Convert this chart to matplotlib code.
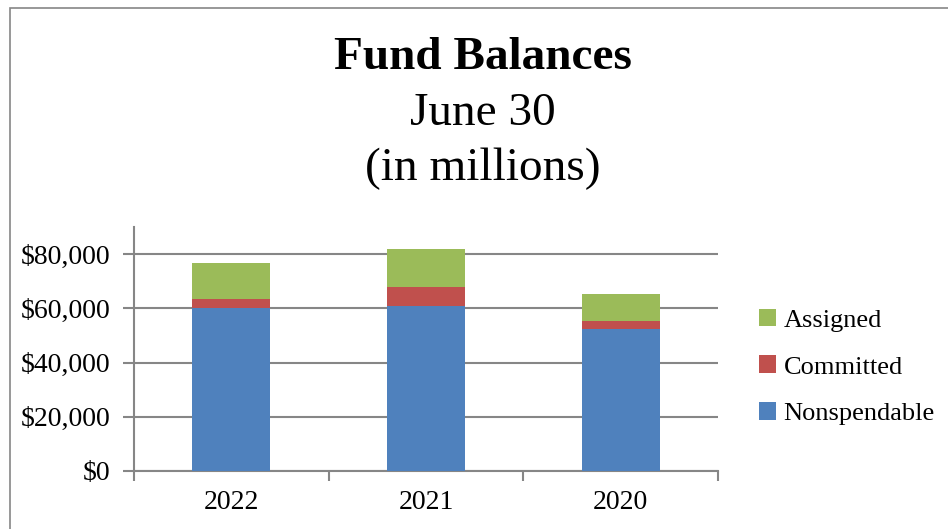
import matplotlib
matplotlib.use("Agg")
import matplotlib.pyplot as plt
from matplotlib.patches import Rectangle, Patch
from matplotlib.ticker import FuncFormatter, FixedLocator
import numpy as np

years = ["2022", "2021", "2020"]
nonspendable = [60200, 60700, 52300]
committed = [3200, 7000, 3200]
assigned = [13300, 14100, 9900]

series_names = ["Nonspendable", "Committed", "Assigned"]
series_colors = ["#4F81BD", "#C0504D", "#9BBB59"]
grid_color = "#868686"

plt.rcParams["font.family"] = ["Liberation Serif", "DejaVu Serif"]

W, H = 948, 529
fig = plt.figure(figsize=(W / 100, H / 100), dpi=100)

# outer chart frame (runs past the right and bottom edges)
fig.patches.append(Rectangle((10 / W, -0.05), 1.2, (H - 8) / H + 0.05,
                             transform=fig.transFigure, fill=False,
                             edgecolor=grid_color, linewidth=1.2))

ax = fig.add_axes([134 / W, (H - 471) / H, (718 - 134) / W, (471 - 227) / H])

x = np.arange(len(years))
width = 0.4
bottoms = np.zeros(len(years))
handles = []
for vals, name, col in zip([nonspendable, committed, assigned], series_names, series_colors):
    ax.bar(x, vals, width, bottom=bottoms, color=col, label=name, zorder=3,
           edgecolor="none")
    bottoms += np.array(vals)
    handles.append(Patch(facecolor=col, label=name))

ax.set_xlim(-0.5, len(years) - 0.5)
ax.set_ylim(0, 90000)
ax.set_yticks(np.arange(0, 80001, 20000))
ax.yaxis.set_major_formatter(FuncFormatter(lambda v, p: f"${v:,.0f}"))
ax.yaxis.grid(True, color=grid_color, linewidth=1.5, zorder=0)

ax.set_xticks(x)
ax.set_xticklabels(years)
ax.tick_params(axis="x", which="major", length=0, pad=14, labelsize=20)
ax.xaxis.set_minor_locator(FixedLocator(np.arange(-0.5, len(years), 1.0)))
ax.tick_params(axis="x", which="minor", length=7, width=1.5, color=grid_color)
ax.tick_params(axis="y", length=8, width=1.5, color=grid_color, labelsize=20, pad=9)

for s in ["top", "right"]:
    ax.spines[s].set_visible(False)
for s in ["left", "bottom"]:
    ax.spines[s].set_color(grid_color)
    ax.spines[s].set_linewidth(1.5)

# title block
fig.text(483 / W, 1 - 58 / H, "Fund Balances", ha="center", va="center",
         fontsize=34, fontweight="bold")
fig.text(483 / W, 1 - 114 / H, "June 30", ha="center", va="center", fontsize=34)
fig.text(483 / W, 1 - 169 / H, "(in millions)", ha="center", va="center", fontsize=34)

# legend, top entry first
leg = fig.legend(handles[::-1], [h.get_label() for h in handles[::-1]],
                 loc="center left", bbox_to_anchor=(748 / W, 1 - 367 / H),
                 frameon=False, fontsize=19, handlelength=0.65, handleheight=0.65,
                 handletextpad=0.3, labelspacing=0.9, borderaxespad=0)

fig.savefig("out.png", dpi=100)
